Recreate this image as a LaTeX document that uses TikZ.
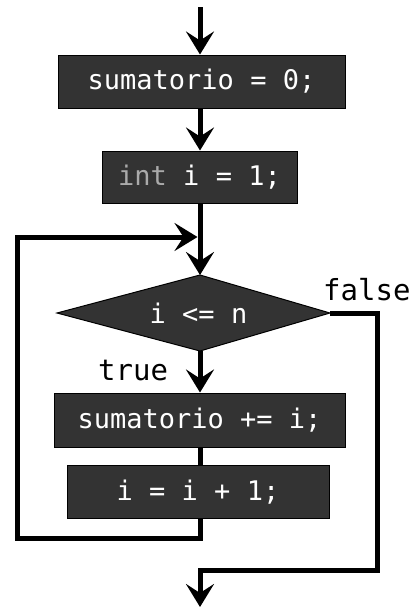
\documentclass[tikz,border=0pt]{standalone}
\usepackage{fontspec}
\setmonofont{DejaVu Sans Mono}
\usetikzlibrary{arrows.meta}
\definecolor{boxfill}{HTML}{333333}
\definecolor{dimtext}{HTML}{AAAAAA}
\tikzset{
  stmt/.style={draw=black, line width=1pt, fill=boxfill, text=white, inner sep=0pt,
    font=\ttfamily\fontsize{27}{27}\selectfont},
  lbl/.style={inner sep=0pt, font=\ttfamily\fontsize{29}{29}\selectfont},
  flow/.style={line width=5pt},
  flowarrow/.style={line width=5pt, -{Stealth[length=23pt,width=28pt,inset=9pt]}},
}
\begin{document}
\begin{tikzpicture}[x=1pt,y=-1pt]
\useasboundingbox (0,0) rectangle (416,608);
\coordinate (start) at (200,7);
\node[stmt, minimum width=287pt, minimum height=53pt] (b1) at (201.5,81.5) {sumatorio = 0;};
\node[stmt, minimum width=195pt, minimum height=52pt] (b2) at (199.5,177) {\textcolor{dimtext}{int} i = 1;};
% decision diamond
\coordinate (dl) at (57,313);
\coordinate (dr) at (330,313);
\coordinate (dt) at (200,275);
\coordinate (db) at (200,351);
\filldraw[fill=boxfill, draw=black, line width=1pt] (dl) -- (dt) -- (dr) -- (db) -- cycle;
\node[inner sep=0pt, text=white, font=\ttfamily\fontsize{27}{27}\selectfont] (cond) at (198.5,313) {i <= n};
\node[stmt, minimum width=291pt, minimum height=54pt] (b3) at (199.5,420) {sumatorio += i;};
\node[stmt, minimum width=262pt, minimum height=53pt] (b4) at (198,492) {i = i + 1;};
\node[lbl, anchor=base west] (lfalse) at (323,300) {false};
\node[lbl, anchor=base west] (ltrue) at (98,380) {true};
\coordinate (merge) at (197.5,237);
\coordinate (endpt) at (200,607);
% connectors
\draw[flowarrow] (start) -- (b1.north -| start);
\draw[flowarrow] (b1.south -| start) -- (b2.north -| start);
\draw[flowarrow] (b2.south -| start) -- (dt);
\draw[flowarrow] (db) -- (b3.north -| start);
\draw[flow] (b3.south -| start) -- (b4.north -| start);
\draw[flowarrow, line join=miter] (b4.south -| start) -- (200,538) -- (17,538) -- (17,237) -- (merge);
\draw[flowarrow, line join=miter] (dr) -- (377,313) -- (377,570) -- (200,570) -- (endpt);
\end{tikzpicture}
\end{document}
